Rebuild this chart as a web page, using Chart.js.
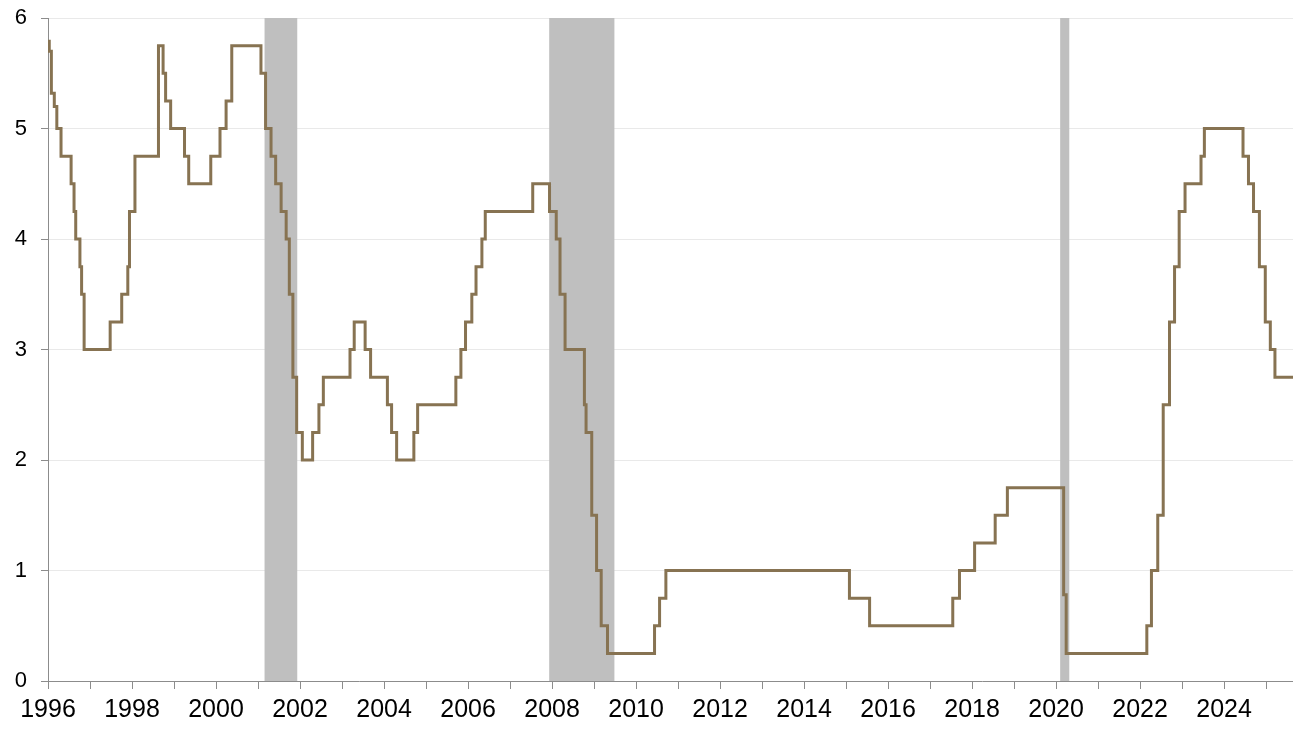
<!DOCTYPE html>
<html>
<head>
<meta charset="utf-8">
<script src="https://cdn.jsdelivr.net/npm/chart.js@4"></script>
<style>
  body { margin:0; background:#fff; }
  #wrap { width:1293px; height:730px; }
</style>
</head>
<body>
<div id="wrap"><canvas id="chart"></canvas></div>
<script>
// policy rate, value holds from each date until the next one
const rateDates = [
    1996.00, 1996.03, 1996.08, 1996.15, 1996.21, 1996.31, 1996.55, 1996.62, 1996.66, 1996.76,
    1996.80, 1996.86, 1997.48, 1997.755, 1997.90, 1997.94, 1998.07, 1998.63, 1998.74, 1998.80,
    1998.92, 1999.25, 1999.35, 1999.875, 2000.095, 2000.24, 2000.375, 2001.07, 2001.18, 2001.31,
    2001.42, 2001.55, 2001.67, 2001.745, 2001.83, 2001.92, 2002.055, 2002.30, 2002.45, 2002.555,
    2003.19, 2003.29, 2003.55, 2003.68, 2004.08, 2004.18, 2004.30, 2004.71, 2004.80, 2005.71,
    2005.83, 2005.94, 2006.09, 2006.19, 2006.33, 2006.41, 2007.54, 2007.94, 2008.10, 2008.19,
    2008.31, 2008.77, 2008.81, 2008.945, 2009.06, 2009.17, 2009.32, 2010.44, 2010.56, 2010.71,
    2015.08, 2015.56, 2017.54, 2017.70, 2018.06, 2018.55, 2018.84, 2020.18, 2020.24, 2022.16,
    2022.27, 2022.42, 2022.55, 2022.70, 2022.82, 2022.93, 2023.07, 2023.45, 2023.53, 2024.45,
    2024.58, 2024.70, 2024.84, 2024.98, 2025.10, 2025.21, 2025.64
];
const rateValues = [
    5.79, 5.70, 5.32, 5.20, 5.00, 4.75, 4.50, 4.25, 4.00, 3.75,
    3.50, 3.00, 3.25, 3.50, 3.75, 4.25, 4.75, 5.75, 5.50, 5.25,
    5.00, 4.75, 4.50, 4.75, 5.00, 5.25, 5.75, 5.50, 5.00, 4.75,
    4.50, 4.25, 4.00, 3.50, 2.75, 2.25, 2.00, 2.25, 2.50, 2.75,
    3.00, 3.25, 3.00, 2.75, 2.50, 2.25, 2.00, 2.25, 2.50, 2.75,
    3.00, 3.25, 3.50, 3.75, 4.00, 4.25, 4.50, 4.25, 4.00, 3.50,
    3.00, 2.50, 2.25, 1.50, 1.00, 0.50, 0.25, 0.50, 0.75, 1.00,
    0.75, 0.50, 0.75, 1.00, 1.25, 1.50, 1.75, 0.78, 0.25, 0.50,
    1.00, 1.50, 2.50, 3.25, 3.75, 4.25, 4.50, 4.75, 5.00, 4.75,
    4.50, 4.25, 3.75, 3.25, 3.00, 2.75, 2.75
];

// recession shading
const recStarts = [2001.15, 2007.93, 2020.095];
const recEnds   = [2001.94, 2009.49, 2020.32];

const yMin = 0, yMax = 6;
const xMin = 1996, xMax = 2025.64;

const lineColor = '#877352';
const recColor = '#BFBFBF';
const axisColor = '#8c8c8c';

const datasets = [{
    label:'rate',
    data: rateDates.map((d,i)=>({ x:d, y:rateValues[i] })),
    borderColor: lineColor,
    borderWidth: 3,
    stepped: 'before',
    pointRadius: 0,
    fill: false,
    order: 0
}];

recStarts.forEach((s,i)=>{
    datasets.push({
        label:'recession' + i,
        data: [{ x:s, y:yMax }, { x:recEnds[i], y:yMax }],
        borderWidth: 0,
        backgroundColor: recColor,
        fill: 'origin',
        pointRadius: 0,
        order: 2
    });
});

new Chart(document.getElementById('chart').getContext('2d'), {
    type:'line',
    data:{ datasets },
    options:{
        responsive:true,
        maintainAspectRatio:false,
        animation:false,
        layout:{ padding:{ top:18, right:0, left:0, bottom:0 } },
        plugins:{ legend:{ display:false }, tooltip:{ enabled:false } },
        scales:{
            x:{
                type:'linear',
                min:xMin, max:xMax,
                afterFit: s => { s.height = 49; },
                border:{ display:true, color:axisColor, width:1 },
                grid:{ drawOnChartArea:false, drawTicks:true, tickLength:8, tickColor:axisColor },
                ticks:{
                    stepSize:1,
                    autoSkip:false,
                    includeBounds:false,
                    maxRotation:0,
                    padding:6,
                    color:'#000',
                    font:{ family:'"Liberation Sans", Arial, sans-serif', size:25 },
                    callback: v => (v % 2 === 0 ? String(v) : '')
                }
            },
            y:{
                min:yMin, max:yMax,
                // keep the plot top where the reference has it
                afterFit: s => { s.width = 48; s.paddingTop = 0; s.paddingBottom = 0; },
                border:{ display:true, color:axisColor, width:1 },
                grid:{ color:'#e9e9e9', tickLength:7, tickColor:axisColor },
                ticks:{
                    stepSize:1,
                    padding:14,
                    color:'#000',
                    font:{ family:'"Liberation Sans", Arial, sans-serif', size:22 }
                }
            }
        }
    }
});
</script>
</body>
</html>
